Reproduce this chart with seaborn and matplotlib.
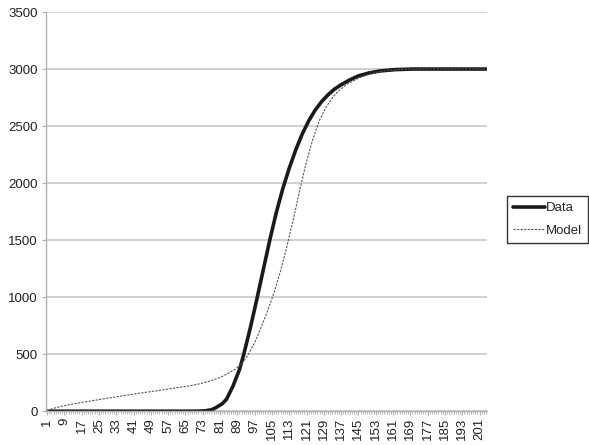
import seaborn as sns
import pandas as pd
import matplotlib.pyplot as plt
from matplotlib.ticker import MultipleLocator

data_x = [1, 20, 40, 60, 70, 74, 77, 79, 82, 84, 87, 90, 92, 95, 98, 101, 104,
          107, 110, 113, 116, 119, 122, 125, 128, 131, 134, 137, 141, 145, 150,
          155, 162, 170, 185, 204]
data_y = [0, 0, 0, 0, 0, 3, 12, 30, 65, 105, 220, 365, 500, 730, 980, 1240, 1500,
          1740, 1950, 2130, 2290, 2430, 2545, 2640, 2715, 2775, 2825, 2862, 2905, 2940, 2966,
          2983, 2995, 3000, 3000, 3000]

model_x = [1, 4, 8, 15, 22, 29, 36, 44, 52, 59, 67, 72, 76, 81, 85, 88, 91, 94, 97,
           100, 103, 106, 109, 112, 115, 118, 121, 124, 127, 130, 133, 136, 140,
           145, 150, 155, 160, 167, 180, 204]
model_y = [5, 25, 45, 70, 92, 114, 135, 158, 180, 200, 222, 242, 262, 295, 335, 368, 415,
           495, 600, 735, 880, 1040, 1230, 1450, 1690, 1950, 2190, 2390, 2550, 2665, 2750, 2812, 2870,
           2920, 2955, 2978, 2990, 3000, 3000, 3000]

xticks = list(range(1, 202, 8))

df_data = pd.DataFrame({"x": data_x, "y": data_y})
df_model = pd.DataFrame({"x": model_x, "y": model_y})

sns.set_style("white")
plt.rcParams['font.family'] = ['Liberation Sans', 'DejaVu Sans']
fig = plt.figure(figsize=(5.89, 4.45), dpi=100)
ax = fig.add_axes([0.078, 0.076, 0.749, 0.897])

sns.lineplot(data=df_data, x="x", y="y", ax=ax, color="#1a1a1a", linewidth=2.6, label="Data")
sns.lineplot(data=df_model, x="x", y="y", ax=ax, color="#555555", linewidth=0.8,
             linestyle=(0, (2, 1.2)), label="Model")

ax.set_xlim(0.5, 204.5)
ax.set_ylim(0, 3500)
ax.set_yticks(range(0, 3501, 500))
ax.set_xticks(xticks)
ax.set_xticklabels([str(t) for t in xticks], rotation=90)
ax.xaxis.set_minor_locator(MultipleLocator(1))
ax.yaxis.grid(True, color="#c8c8c8", linewidth=1.2)
ax.set_axisbelow(True)
ax.set(xlabel="", ylabel="")

for side in ["top", "right"]:
    ax.spines[side].set_visible(False)
for side in ["left", "bottom"]:
    ax.spines[side].set_color("#b0b0b0")
    ax.spines[side].set_linewidth(1)

ax.tick_params(axis="x", which="both", bottom=True, length=3, color="#b0b0b0", labelsize=9.5,
               labelcolor="#222222", pad=2)
ax.tick_params(axis="x", which="minor", length=2)
ax.tick_params(axis="y", left=True, length=3, color="#b0b0b0", labelsize=9.5,
               labelcolor="#222222", pad=3)

leg = ax.legend(loc="center left", bbox_to_anchor=(1.045, 0.48), frameon=True, fancybox=False,
                fontsize=9.5, handlelength=2.4, handletextpad=0.1, borderpad=0.45, labelspacing=0.8,
                borderaxespad=0)
leg.get_frame().set_edgecolor("black")
leg.get_frame().set_linewidth(1)

fig.savefig("out.png", dpi=100)
